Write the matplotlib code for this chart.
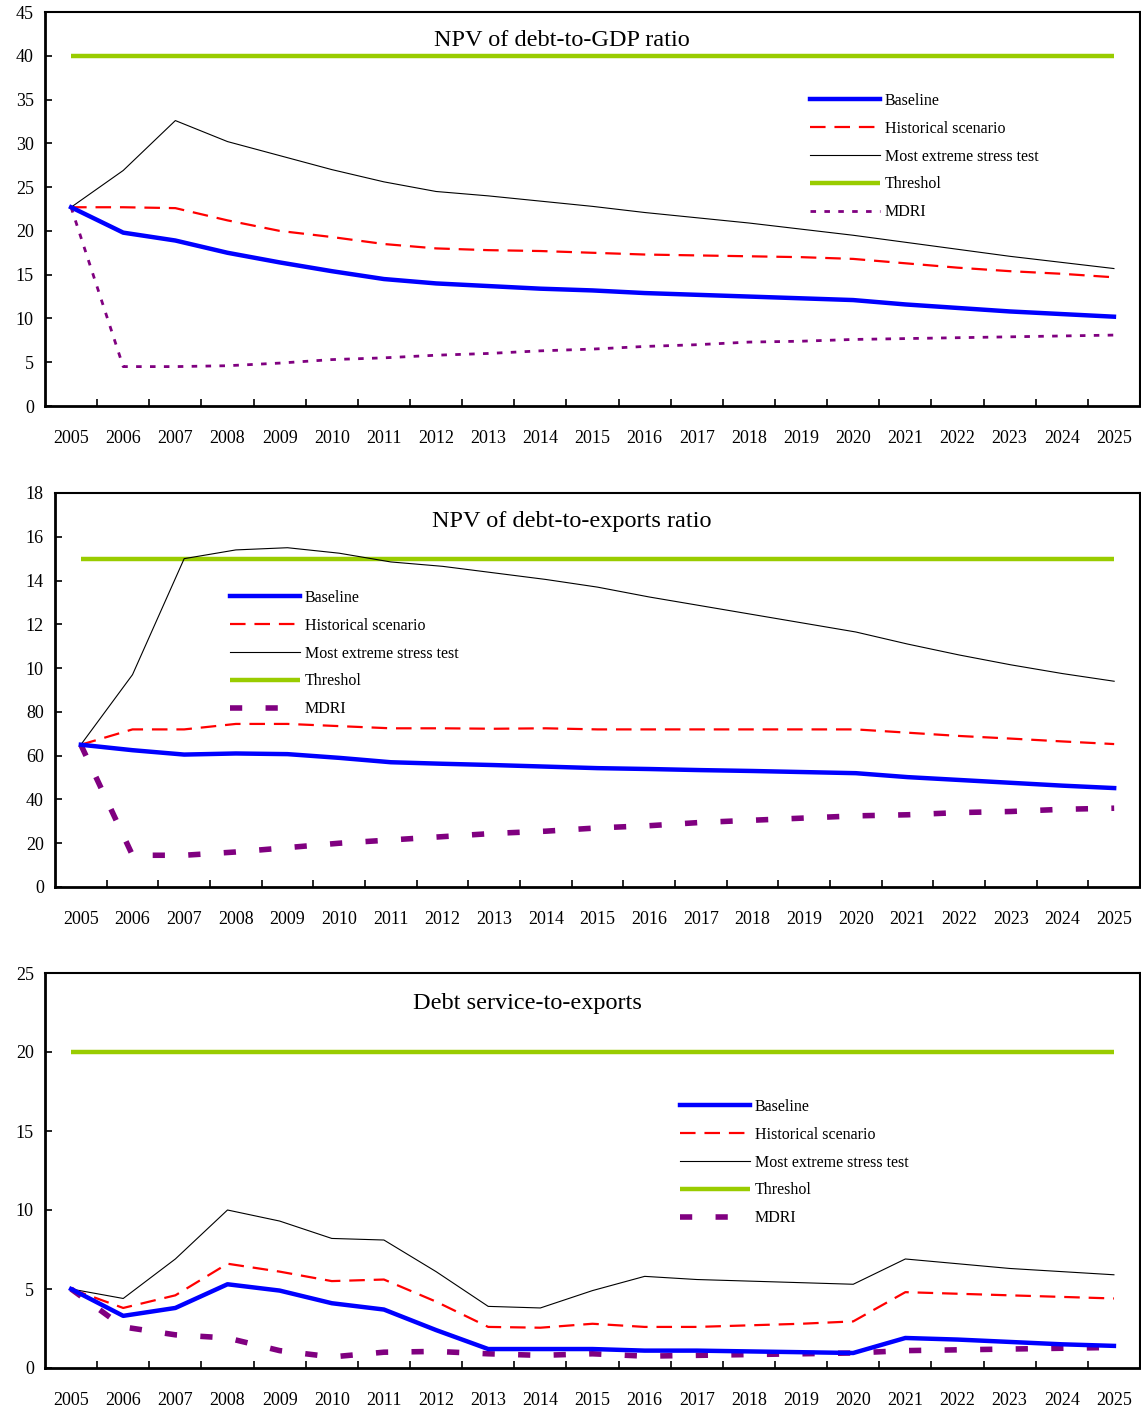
import matplotlib
matplotlib.use("Agg")
import matplotlib.pyplot as plt
import numpy as np

plt.rcParams['font.family'] = ['Liberation Serif', 'DejaVu Serif']

years = [str(y) for y in range(2005, 2026)]

# --- panel 1: NPV of debt-to-GDP ratio ---
gdp_baseline = [22.7, 19.8, 18.9, 17.5, 16.4, 15.4, 14.5, 14.0, 13.7, 13.4, 13.2,
                12.9, 12.7, 12.5, 12.3, 12.1, 11.6, 11.2, 10.8, 10.5, 10.2]
gdp_historical = [22.7, 22.7, 22.6, 21.2, 20.0, 19.3, 18.5, 18.0, 17.8, 17.7, 17.5,
                  17.3, 17.2, 17.1, 17.0, 16.8, 16.3, 15.8, 15.4, 15.1, 14.7]
gdp_extreme = [22.7, 26.9, 32.6, 30.2, 28.6, 27.0, 25.6, 24.5, 24.0, 23.4, 22.8,
               22.1, 21.5, 20.9, 20.2, 19.5, 18.7, 17.9, 17.1, 16.4, 15.7]
gdp_threshold = [40] * 21
gdp_mdri = [22.7, 4.5, 4.5, 4.6, 4.9, 5.3, 5.5, 5.8, 6.0, 6.3, 6.5,
            6.8, 7.0, 7.3, 7.4, 7.6, 7.7, 7.8, 7.9, 8.0, 8.1]
gdp_yticks = [0, 5, 10, 15, 20, 25, 30, 35, 40, 45]
gdp_ylabels = ['0', '5', '10', '15', '20', '25', '30', '35', '40', '45']

# --- panel 2: NPV of debt-to-exports ratio ---
exp_baseline = [65, 62.5, 60.5, 61, 60.7, 59, 57, 56.3, 55.7, 55, 54.3,
                53.9, 53.4, 53, 52.5, 52, 50.2, 48.9, 47.6, 46.3, 45.2]
exp_historical = [65, 72, 72, 74.5, 74.5, 73.5, 72.5, 72.5, 72.3, 72.5, 72,
                  72, 72, 72, 72, 72, 70.5, 69, 67.8, 66.5, 65.3]
exp_extreme = [65, 97, 150, 154, 155, 152.5, 148.5, 146.5, 143.5, 140.5, 137,
               132.5, 128.5, 124.5, 120.5, 116.5, 111, 106, 101.5, 97.5, 94]
exp_threshold = [150] * 21
exp_mdri = [65, 14.5, 14.5, 16, 18, 20, 21.5, 23, 24.5, 25.5, 27,
            28, 29.5, 30.5, 31.5, 32.5, 33, 34, 34.5, 35.5, 36]
exp_yticks = [0, 20, 40, 60, 80, 100, 120, 140, 160, 180]
exp_ylabels = ['0', '20', '40', '60', '80', '10', '12', '14', '16', '18']

# --- panel 3: Debt service-to-exports ---
ds_baseline = [5.0, 3.3, 3.8, 5.3, 4.9, 4.1, 3.7, 2.4, 1.2, 1.2, 1.2,
               1.1, 1.1, 1.05, 1.0, 0.95, 1.9, 1.8, 1.65, 1.5, 1.4]
ds_historical = [5.0, 3.8, 4.6, 6.6, 6.1, 5.5, 5.6, 4.2, 2.6, 2.55, 2.8,
                 2.6, 2.6, 2.7, 2.8, 2.95, 4.8, 4.7, 4.6, 4.5, 4.4]
ds_extreme = [5.0, 4.4, 6.9, 10.0, 9.3, 8.2, 8.1, 6.1, 3.9, 3.8, 4.9,
              5.8, 5.6, 5.5, 5.4, 5.3, 6.9, 6.6, 6.3, 6.1, 5.9]
ds_threshold = [20] * 21
ds_mdri = [5.0, 2.6, 2.1, 1.9, 1.1, 0.7, 1.0, 1.05, 0.9, 0.8, 0.9,
           0.75, 0.8, 0.85, 0.9, 0.95, 1.1, 1.15, 1.2, 1.25, 1.3]
ds_yticks = [0, 5, 10, 15, 20, 25]
ds_ylabels = ['0', '5', '10', '15', '20', '25']

W, H = 1141, 1409
fig = plt.figure(figsize=(W / 100, H / 100), dpi=100)


def px_axes(left, top, right, bottom):
    return fig.add_axes([left / W, 1 - bottom / H, (right - left) / W, (bottom - top) / H])


panels = [
    dict(box=(45, 12, 1140, 406), title="NPV of debt-to-GDP ratio", tx=562, ty=41,
         data=(gdp_baseline, gdp_historical, gdp_extreme, gdp_threshold, gdp_mdri),
         yticks=gdp_yticks, ylabels=gdp_ylabels, leg=(810, 99), mdri_style=(2.0, (2, 3))),
    dict(box=(55, 493, 1140, 887), title="NPV of debt-to-exports ratio", tx=572, ty=522,
         data=(exp_baseline, exp_historical, exp_extreme, exp_threshold, exp_mdri),
         yticks=exp_yticks, ylabels=exp_ylabels, leg=(230, 596), mdri_style=(4.0, (2.2, 4.2))),
    dict(box=(45, 973, 1140, 1368), title="Debt service-to-exports", tx=527, ty=1004,
         data=(ds_baseline, ds_historical, ds_extreme, ds_threshold, ds_mdri),
         yticks=ds_yticks, ylabels=ds_ylabels, leg=(680, 1105), mdri_style=(4.0, (2.2, 4.2))),
]

x = np.arange(len(years))

for p in panels:
    left, top, right, bottom = p['box']
    ax = px_axes(left, top, right, bottom)
    base, hist, ext, thr, mdri = p['data']

    l_thr, = ax.plot(x, thr, color='#99CC00', lw=3.2, solid_capstyle='butt')
    l_ext, = ax.plot(x, ext, color='black', lw=0.8)
    l_hist, = ax.plot(x, hist, color='#FF0000', lw=1.6, dashes=(7, 4))
    mlw, mdash = p['mdri_style']
    l_mdri, = ax.plot(x, mdri, color='#800080', lw=mlw, dashes=mdash)
    l_base, = ax.plot(x, base, color='#0000FF', lw=3.2)

    ax.set_xlim(-0.5, len(years) - 0.5)
    ax.set_ylim(p['yticks'][0], p['yticks'][-1])
    ax.set_yticks(p['yticks'])
    ax.set_yticklabels(p['ylabels'])
    ax.set_xticks(x)
    ax.set_xticklabels(years)
    ax.set_xticks(np.arange(0.5, len(years) - 1, 1.0), minor=True)
    ax.tick_params(axis='x', which='major', length=0, pad=17, labelsize=13)
    ax.tick_params(axis='x', which='minor', direction='in', length=5, width=1.2)
    ax.tick_params(axis='y', direction='in', length=5, width=1.2, labelsize=13, pad=8)
    for s in ['left', 'bottom']:
        ax.spines[s].set_linewidth(2.0)
    for s in ['top', 'right']:
        ax.spines[s].set_linewidth(1.5)

    ax.text(p['tx'] / W, 1 - p['ty'] / H, p['title'], transform=fig.transFigure,
            ha='center', va='center', fontsize=17.5)

    lx, ly = p['leg']
    ax.legend([l_base, l_hist, l_ext, l_thr, l_mdri],
              ['Baseline', 'Historical scenario', 'Most extreme stress test', 'Threshol', 'MDRI'],
              loc='upper left', bbox_to_anchor=((lx - 8) / W, 1 - (ly - 14) / H),
              bbox_transform=fig.transFigure, frameon=False, fontsize=11.5,
              handlelength=4.4, handletextpad=0.3, labelspacing=0.74, borderpad=0)

fig.savefig('out.png', dpi=100)
